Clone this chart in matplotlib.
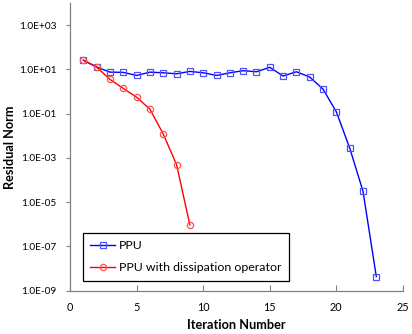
import numpy as np
import matplotlib.pyplot as plt
from matplotlib import ticker

plt.rcParams['font.family'] = ['Lato', 'DejaVu Sans']

# Dane
iter_ppu = [1, 2, 3, 4, 5, 6, 7, 8, 9, 10, 11, 12, 13, 14, 15, 16, 17, 18, 19, 20, 21, 22, 23]
res_ppu = [26, 12.7, 7.5, 7.3, 5.3, 7.5, 7.0, 6.3, 8.1, 7.0, 5.3, 7.0, 8.7, 7.8, 12.4,
           5.0, 7.8, 4.5, 1.28, 0.12, 2.8e-3, 3.1e-5, 4.3e-9]

iter_diss = [1, 2, 3, 4, 5, 6, 7, 8, 9]
res_diss = [26, 12.7, 3.5, 1.37, 0.55, 0.158, 0.012, 4.9e-4, 9.3e-7]

labels = ["PPU", "PPU with dissipation operator"]
x_ticks = [0, 5, 10, 15, 20, 25]
y_ticks = [1e-9, 1e-7, 1e-5, 1e-3, 1e-1, 1e1, 1e3]

fig = plt.figure(figsize=(4.12, 3.34), dpi=100)
ax = fig.add_axes([0.17, 0.13, 0.808, 0.861])

ax.plot(iter_ppu, res_ppu, color='#0000FF', lw=1, marker='s', ms=4.5,
        mfc='none', mec='#5050FF', mew=0.9, label=labels[0])
ax.plot(iter_diss, res_diss, color='#FF0000', lw=1, marker='o', ms=4.5,
        mfc='none', mec='#FF5050', mew=0.9, label=labels[1])

ax.set_yscale('log')
ax.set_ylim(1e-9, 1e4)
ax.set_xlim(0, 25)
ax.yaxis.set_major_locator(ticker.FixedLocator(y_ticks))
ax.yaxis.set_minor_locator(ticker.NullLocator())
ax.yaxis.set_major_formatter(ticker.FuncFormatter(lambda v, p: "{:.1E}".format(v)))
ax.set_xticks(x_ticks)

for s in ['top', 'right']:
    ax.spines[s].set_visible(False)
for s in ['left', 'bottom']:
    ax.spines[s].set_color('#808080')
    ax.spines[s].set_linewidth(0.9)

ax.tick_params(axis='y', direction='out', length=3, color='#808080', labelsize=7.3, pad=6.5)
ax.tick_params(axis='x', direction='in', length=4, color='#808080', labelsize=7.8, pad=8)

ax.set_xlabel("Iteration Number", fontsize=9.2, fontweight='bold')
ax.set_ylabel("Residual Norm", fontsize=9.2, fontweight='bold')
ax.xaxis.set_label_coords(0.5, -0.10)
ax.yaxis.set_label_coords(-0.162, 0.5)

leg = ax.legend(loc='lower left', bbox_to_anchor=(0.039, 0.034), borderaxespad=0,
                fontsize=8.9, fancybox=False, edgecolor='black', framealpha=1,
                handlelength=2.0, handletextpad=0.3, borderpad=0.6, labelspacing=0.9)
leg.get_frame().set_linewidth(0.9)

fig.savefig("out.png", dpi=100)
